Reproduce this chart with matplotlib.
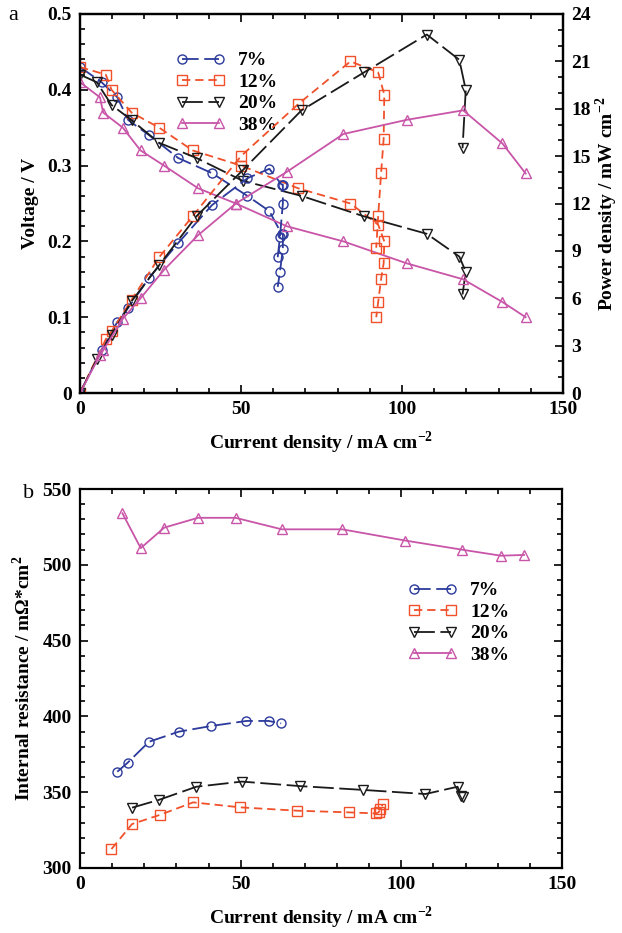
import matplotlib
matplotlib.use("Agg")
import matplotlib.pyplot as plt
from matplotlib.ticker import MultipleLocator

plt.rcParams['font.family'] = ['Liberation Serif', 'DejaVu Serif']
plt.rcParams['lines.scale_dashes'] = False
plt.rcParams['mathtext.fontset'] = 'custom'
plt.rcParams['mathtext.rm'] = 'Liberation Serif:bold'
plt.rcParams['mathtext.bf'] = 'Liberation Serif:bold'

labels = ['7%', '12%', '20%', '38%']
colors = ['#2b3a9b', '#f0512a', '#1a1a1a', '#c855a8']
markers = ['o', 's', 'v', '^']
dash_styles = [(0, (12, 4)), (0, (6, 3.5)), (0, (15, 4)), '-']

# ---- panel a: polarization (voltage) and power density ----
i_7 = [0, 6.7, 11.6, 15, 21.5, 30.5, 41, 52, 58.8, 62.6, 63, 63, 62.1, 61.4]
v_7 = [0.43, 0.41, 0.39, 0.36, 0.34, 0.31, 0.29, 0.26, 0.24, 0.21, 0.21, 0.19, 0.16, 0.14]
p_7 = [0, 2.75, 4.5, 5.4, 7.3, 9.5, 11.9, 13.6, 14.2, 13.2, 13.2, 12.0, 9.9, 8.6]

i_12 = [0, 8, 9.8, 16, 24.6, 35, 50, 67.8, 84, 92.6, 94.5, 94.3, 93.5, 92.6, 92]
v_12 = [0.43, 0.42, 0.40, 0.37, 0.35, 0.32, 0.30, 0.27, 0.25, 0.222, 0.20, 0.171, 0.15, 0.12, 0.10]
p_12 = [0, 3.4, 3.9, 5.9, 8.6, 11.2, 15.0, 18.3, 21.0, 20.3, 18.9, 16.1, 13.9, 11.2, 9.2]

i_20 = [0, 5.2, 9.8, 16, 24.6, 36.2, 50.5, 68.8, 88.2, 107.7, 117.8, 119.8, 118.8]
v_20 = [0.42, 0.41, 0.38, 0.36, 0.33, 0.31, 0.28, 0.26, 0.233, 0.21, 0.18, 0.16, 0.13]
p_20 = [0, 2.13, 3.7, 5.8, 8.1, 11.2, 14.1, 17.9, 20.3, 22.7, 21.1, 19.2, 15.5]

i_38 = [0, 6.2, 7.2, 13.3, 18.8, 26.1, 36.7, 48.4, 64.2, 81.8, 101.5, 119, 131.2, 138.4]
v_38 = [0.41, 0.39, 0.37, 0.35, 0.32, 0.30, 0.27, 0.25, 0.22, 0.20, 0.171, 0.15, 0.12, 0.10]
p_38 = [0, 2.4, 2.7, 4.7, 6.0, 7.8, 10.0, 12.0, 14.0, 16.4, 17.3, 17.9, 15.8, 13.9]

# ---- panel b: internal resistance ----
ri_7 = [11.6, 14.8, 21.5, 30.7, 40.9, 51.8, 58.7, 62.6]
r_7 = [363.5, 369.4, 383.3, 389.9, 393.7, 397, 397, 395.4]

ri_12 = [9.8, 16.2, 24.8, 35.2, 49.9, 67.6, 83.6, 92.1, 92.9, 93.5, 94.2]
r_12 = [312.5, 329, 335, 343.3, 340, 337.8, 336.7, 336, 336.7, 338.7, 342.2]

ri_20 = [16.2, 24.5, 36.2, 50.4, 68.6, 88.2, 107.5, 117.5, 118.5, 119.3]
r_20 = [339.8, 344.9, 353.6, 357, 354, 351.5, 348.8, 353.6, 347.7, 347]

ri_38 = [13.2, 18.9, 26.2, 36.7, 48.4, 62.8, 81.6, 101.2, 118.8, 131, 138.2]
r_38 = [534, 511, 524.5, 531, 531, 523.4, 523.4, 516, 510, 506, 506.5]

I = [i_7, i_12, i_20, i_38]
V = [v_7, v_12, v_20, v_38]
P = [p_7, p_12, p_20, p_38]
RI = [ri_7, ri_12, ri_20, ri_38]
R = [r_7, r_12, r_20, r_38]

fs = 14
fig = plt.figure(figsize=(6.22, 9.33), dpi=100)
W, H = 622, 933
axa = fig.add_axes([80 / W, 1 - 393 / H, 483 / W, 379 / H])
axp = axa.twinx()
axb = fig.add_axes([80 / W, 1 - 868 / H, 482 / W, 379 / H])

mk = dict(markersize=6.5, markerfacecolor='none', markeredgewidth=1.0, linewidth=1.3)

for k in range(4):
    axa.plot(I[k], V[k], color=colors[k], marker=markers[k], linestyle=dash_styles[k],
             markeredgecolor=colors[k], label=labels[k], **mk)
    axp.plot(I[k], P[k], color=colors[k], marker=markers[k], linestyle=dash_styles[k],
             markeredgecolor=colors[k], **mk)
    axb.plot(RI[k], R[k], color=colors[k], marker=markers[k], linestyle=dash_styles[k],
             markeredgecolor=colors[k], label=labels[k], **mk)

def style(ax):
    for s in ax.spines.values():
        s.set_linewidth(1.6)
    ax.tick_params(which='both', direction='in', labelsize=fs, width=1.2)
    ax.tick_params(which='major', length=6, pad=6)
    ax.tick_params(which='minor', length=3.5)
    for t in ax.get_xticklabels() + ax.get_yticklabels():
        t.set_fontweight('bold')

axa.set_xlim(0, 150)
axa.set_ylim(0, 0.5)
axa.xaxis.set_major_locator(MultipleLocator(50))
axa.xaxis.set_minor_locator(MultipleLocator(10))
axa.yaxis.set_major_locator(MultipleLocator(0.1))
axa.yaxis.set_minor_locator(MultipleLocator(0.02))
axa.tick_params(which='both', top=True)
axa.set_yticks([0, 0.1, 0.2, 0.3, 0.4, 0.5])
axa.set_yticklabels(['0', '0.1', '0.2', '0.3', '0.4', '0.5'])
style(axa)

axp.set_ylim(0, 24)
axp.yaxis.set_major_locator(MultipleLocator(3))
axp.yaxis.set_minor_locator(MultipleLocator(1))
style(axp)

axb.set_xlim(0, 150)
axb.set_ylim(300, 550)
axb.xaxis.set_major_locator(MultipleLocator(50))
axb.xaxis.set_minor_locator(MultipleLocator(10))
axb.yaxis.set_major_locator(MultipleLocator(50))
axb.yaxis.set_minor_locator(MultipleLocator(10))
axb.tick_params(which='both', top=True, right=True)
style(axb)

lab = dict(fontsize=fs, fontweight='bold')
axa.set_xlabel('Current density / mA cm$^{-2}$', labelpad=8, **lab)
axa.set_ylabel('Voltage / V', labelpad=6, **lab)
axp.set_ylabel('Power density / mW cm$^{-2}$', labelpad=2, **lab)
axb.set_xlabel('Current density / mA cm$^{-2}$', labelpad=8, **lab)
axb.set_ylabel('Internal resistance / m\u03a9*cm$^{2}$', labelpad=6, **lab)

leg_kw = dict(frameon=False, handlelength=2.5, handletextpad=0.7, labelspacing=0.2,
              prop={'size': fs, 'weight': 'bold'}, numpoints=2, borderaxespad=0)
axa.legend(loc='upper left', bbox_to_anchor=(88 / 483, 1 - 30 / 379), **leg_kw)
axb.legend(loc='upper left', bbox_to_anchor=(320 / 482, 1 - 85 / 379), **leg_kw)

fig.text(8 / W, 1 - 15 / H, 'a', fontsize=16, va='center', ha='left')
fig.text(23 / W, 1 - 494 / H, 'b', fontsize=16, va='center', ha='left')

fig.savefig('out.png', dpi=100)
